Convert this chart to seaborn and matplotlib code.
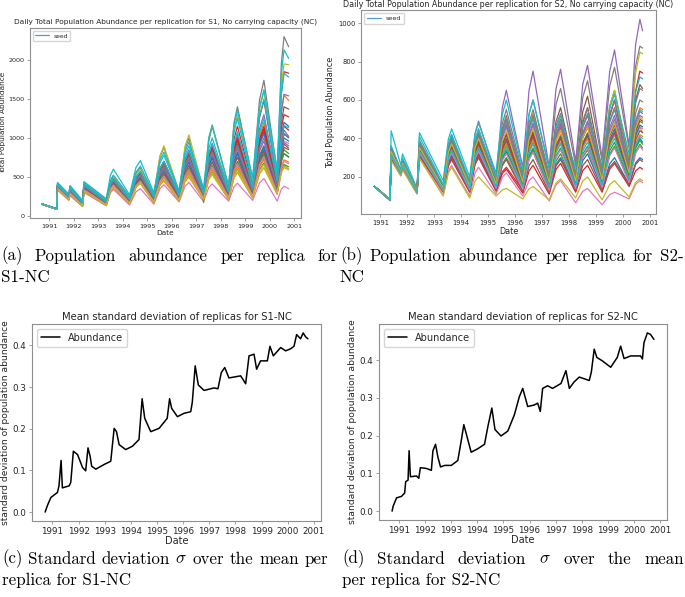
import numpy as np
import pandas as pd
import matplotlib
matplotlib.use("Agg")
import matplotlib.pyplot as plt
import matplotlib.dates as mdates
from matplotlib.lines import Line2D
import seaborn as sns

# ---------------- data ----------------
s1_dates = [1990.72, 1991.30, 1991.34, 1991.80, 1991.85, 1992.36, 1992.42, 1993.33, 1993.50, 1993.62,
            1994.28, 1994.54, 1994.72, 1995.27, 1995.52, 1995.68, 1996.30, 1996.54, 1996.70, 1997.30,
            1997.51, 1997.65, 1998.32, 1998.54, 1998.68, 1999.30, 1999.58, 1999.76, 2000.30, 2000.47,
            2000.58, 2000.77]
s1_r00 = [150, 88, 375, 235, 320, 155, 370, 165, 377, 430, 195, 439, 500, 220, 524, 600, 240, 608, 700, 260, 660, 760, 270, 710, 820, 300, 780, 900, 340, 908, 1050, 1000]
s1_r01 = [148, 85, 340, 205, 270, 125, 310, 135, 315, 360, 150, 366, 420, 170, 394, 450, 190, 438, 500, 210, 474, 540, 210, 490, 560, 230, 542, 620, 280, 576, 650, 600]
s1_r02 = [150, 87, 360, 220, 300, 140, 340, 150, 350, 400, 170, 394, 450, 190, 454, 520, 210, 522, 600, 230, 558, 640, 240, 592, 680, 260, 676, 780, 300, 740, 850, 800]
s1_r03 = [152, 92, 400, 255, 360, 175, 410, 190, 422, 480, 225, 493, 560, 255, 595, 680, 275, 719, 830, 300, 780, 900, 330, 986, 1150, 400, 1264, 1480, 480, 1576, 1850, 1830]
s1_r04 = [150, 89, 380, 240, 330, 160, 380, 170, 394, 450, 200, 456, 520, 230, 542, 620, 250, 642, 740, 270, 694, 800, 290, 762, 880, 320, 904, 1050, 370, 954, 1100, 1020]
s1_r05 = [151, 90, 390, 245, 340, 165, 390, 175, 403, 460, 210, 474, 540, 240, 568, 650, 260, 660, 760, 280, 736, 850, 300, 828, 960, 340, 948, 1100, 400, 1200, 1400, 1370]
s1_r06 = [148, 84, 330, 200, 260, 120, 300, 130, 298, 340, 140, 308, 350, 150, 350, 400, 180, 380, 430, 185, 365, 410, 190, 374, 420, 200, 424, 480, 190, 342, 380, 350]
s1_r07 = [153, 95, 420, 270, 380, 190, 430, 210, 458, 520, 250, 546, 620, 280, 760, 880, 300, 860, 1000, 170, 954, 1150, 380, 1196, 1400, 470, 1486, 1740, 560, 1952, 2300, 2170]
s1_r08 = [152, 93, 410, 260, 370, 180, 420, 200, 440, 500, 240, 528, 600, 270, 774, 900, 310, 894, 1040, 330, 1002, 1170, 350, 1110, 1300, 440, 1368, 1600, 520, 1664, 1950, 1940]
s1_r09 = [152, 94, 430, 280, 390, 200, 440, 220, 524, 600, 270, 622, 710, 300, 716, 820, 320, 824, 950, 350, 998, 1160, 390, 1166, 1360, 490, 1394, 1620, 600, 1824, 2130, 2020]
s1_r10 = [150, 89, 385, 240, 335, 160, 385, 170, 402, 460, 205, 465, 530, 235, 559, 640, 255, 659, 760, 280, 720, 830, 300, 796, 920, 330, 930, 1080, 380, 1036, 1200, 1150]
s1_r11 = [151, 91, 395, 250, 350, 170, 400, 185, 413, 470, 215, 491, 560, 245, 593, 680, 265, 693, 800, 290, 778, 900, 310, 878, 1020, 360, 1032, 1200, 430, 1326, 1550, 1480]
s1_r12 = [149, 86, 350, 210, 285, 130, 320, 140, 332, 380, 160, 376, 430, 180, 420, 480, 200, 472, 540, 220, 492, 560, 220, 524, 600, 240, 592, 680, 290, 586, 660, 630]
s1_r13 = [151, 90, 390, 245, 345, 165, 395, 180, 412, 470, 210, 482, 550, 240, 608, 700, 260, 692, 800, 285, 761, 880, 300, 844, 980, 350, 966, 1120, 410, 1122, 1300, 1270]
s1_r14 = [151, 91, 400, 250, 355, 172, 405, 188, 422, 480, 220, 500, 570, 250, 610, 700, 270, 734, 850, 295, 803, 930, 320, 904, 1050, 370, 1114, 1300, 450, 1338, 1560, 1540]
s1_r15 = [150, 88, 370, 230, 310, 150, 360, 160, 368, 420, 185, 421, 480, 210, 490, 560, 230, 566, 650, 250, 610, 700, 260, 660, 760, 280, 736, 850, 320, 800, 920, 870]
s1_r16 = [150, 88, 365, 228, 310, 148, 355, 158, 364, 415, 185, 413, 470, 205, 497, 570, 230, 574, 660, 250, 618, 710, 265, 677, 780, 290, 762, 880, 330, 834, 960, 930]
s1_r17 = [149, 87, 355, 215, 290, 135, 330, 145, 341, 390, 165, 385, 440, 185, 437, 500, 205, 505, 580, 225, 541, 620, 235, 575, 660, 250, 642, 740, 300, 700, 800, 750]
s1_r18 = [148, 85, 345, 210, 280, 128, 315, 138, 324, 370, 155, 367, 420, 175, 411, 470, 195, 455, 520, 215, 467, 530, 215, 491, 560, 235, 543, 620, 280, 568, 640, 600]
s1_r19 = [152, 93, 415, 265, 375, 185, 425, 200, 456, 520, 245, 561, 640, 275, 679, 780, 295, 779, 900, 320, 864, 1000, 350, 1070, 1250, 420, 1284, 1500, 500, 1564, 1830, 1780]
s1_r20 = [150, 88, 372, 232, 318, 152, 365, 162, 372, 425, 192, 430, 490, 215, 515, 590, 235, 599, 690, 255, 643, 740, 265, 693, 800, 290, 762, 880, 335, 867, 1000, 960]
s1_r21 = [149, 86, 352, 212, 288, 132, 325, 142, 336, 385, 162, 380, 435, 182, 428, 490, 202, 488, 560, 222, 516, 590, 228, 550, 630, 245, 625, 720, 295, 635, 720, 690]
s1_r22 = [150, 87, 362, 222, 302, 142, 345, 152, 354, 405, 175, 399, 455, 195, 463, 530, 215, 531, 610, 235, 567, 650, 245, 609, 700, 265, 693, 800, 305, 701, 800, 760]
s1_r23 = [151, 90, 392, 246, 346, 166, 398, 182, 416, 475, 212, 486, 555, 242, 600, 690, 262, 700, 810, 288, 770, 890, 305, 861, 1000, 355, 991, 1150, 420, 1004, 1150, 1100]
s1_r24 = [150, 89, 378, 238, 328, 158, 378, 168, 390, 445, 198, 452, 515, 228, 534, 610, 248, 626, 720, 268, 686, 790, 285, 745, 860, 315, 831, 960, 360, 824, 940, 900]
s1_r25 = [150, 88, 368, 228, 312, 150, 358, 160, 366, 418, 186, 420, 478, 208, 486, 555, 228, 562, 645, 248, 602, 690, 258, 652, 750, 278, 720, 830, 318, 768, 880, 850]
s1_r26 = [149, 87, 358, 218, 296, 138, 338, 148, 346, 396, 168, 390, 446, 188, 446, 510, 208, 514, 590, 228, 550, 630, 238, 584, 670, 255, 659, 760, 300, 620, 700, 670]
s1_r27 = [150, 89, 382, 240, 332, 160, 382, 170, 398, 455, 202, 460, 525, 232, 550, 630, 252, 650, 750, 275, 711, 820, 295, 779, 900, 325, 865, 1000, 370, 922, 1060, 1010]
s1_r28 = [149, 86, 348, 208, 282, 130, 318, 140, 328, 375, 158, 372, 425, 178, 416, 475, 198, 464, 530, 218, 484, 550, 220, 516, 590, 238, 576, 660, 285, 553, 620, 590]
s1_r29 = [151, 91, 398, 252, 352, 170, 402, 186, 420, 478, 218, 496, 565, 248, 610, 700, 268, 718, 830, 292, 794, 920, 315, 927, 1080, 365, 1073, 1250, 440, 1016, 1160, 1130]
s1_replicas = [s1_r00, s1_r01, s1_r02, s1_r03, s1_r04, s1_r05, s1_r06, s1_r07, s1_r08, s1_r09,
               s1_r10, s1_r11, s1_r12, s1_r13, s1_r14, s1_r15, s1_r16, s1_r17, s1_r18, s1_r19,
               s1_r20, s1_r21, s1_r22, s1_r23, s1_r24, s1_r25, s1_r26, s1_r27, s1_r28, s1_r29]

s2_dates = [1990.78, 1991.36, 1991.40, 1991.76, 1991.82, 1992.36, 1992.45, 1993.33, 1993.52, 1993.64,
            1994.31, 1994.51, 1994.64, 1995.29, 1995.52, 1995.67, 1996.28, 1996.51, 1996.66, 1997.26,
            1997.51, 1997.68, 1998.24, 1998.50, 1998.68, 1999.22, 1999.50, 1999.68, 2000.22, 2000.46,
            2000.62, 2000.72]
s2_r00 = [150, 80, 330, 225, 270, 125, 350, 140, 316, 360, 150, 334, 380, 160, 368, 420, 170, 386, 440, 160, 352, 400, 170, 370, 420, 170, 370, 420, 200, 360, 400, 380]
s2_r01 = [150, 80, 320, 220, 265, 122, 340, 135, 307, 350, 145, 325, 370, 155, 335, 380, 160, 352, 400, 150, 366, 420, 160, 376, 430, 160, 384, 440, 190, 406, 460, 430]
s2_r02 = [150, 79, 310, 215, 255, 120, 330, 130, 290, 330, 135, 299, 340, 140, 268, 300, 140, 292, 330, 130, 282, 320, 140, 300, 340, 150, 318, 360, 170, 330, 370, 350]
s2_r03 = [150, 81, 300, 210, 250, 118, 320, 125, 273, 310, 130, 282, 320, 135, 227, 250, 130, 346, 400, 140, 412, 480, 160, 480, 560, 170, 514, 600, 230, 646, 750, 740]
s2_r04 = [151, 83, 350, 230, 280, 130, 380, 150, 350, 400, 170, 426, 490, 200, 560, 650, 250, 650, 750, 250, 658, 760, 280, 680, 780, 300, 748, 860, 360, 888, 1020, 960]
s2_r05 = [150, 82, 340, 225, 275, 128, 360, 145, 333, 380, 160, 368, 420, 170, 434, 500, 190, 454, 520, 200, 488, 560, 210, 538, 620, 230, 566, 650, 280, 600, 680, 660]
s2_r06 = [149, 76, 290, 205, 240, 112, 300, 105, 229, 260, 100, 220, 250, 110, 198, 220, 100, 180, 200, 75, 159, 180, 65, 125, 140, 55, 107, 120, 85, 161, 180, 170]
s2_r07 = [151, 83, 360, 235, 290, 132, 390, 155, 367, 420, 175, 395, 450, 190, 478, 550, 220, 524, 600, 240, 576, 660, 260, 612, 700, 280, 672, 770, 350, 774, 880, 870]
s2_r08 = [150, 82, 345, 228, 280, 130, 370, 150, 350, 400, 165, 385, 440, 180, 420, 480, 190, 462, 530, 210, 442, 500, 220, 460, 520, 240, 568, 650, 300, 740, 850, 840]
s2_r09 = [151, 84, 440, 260, 320, 140, 430, 180, 396, 450, 200, 424, 480, 220, 524, 600, 240, 528, 600, 250, 418, 460, 250, 418, 460, 260, 556, 630, 320, 640, 720, 710]
s2_r10 = [150, 79, 310, 215, 255, 118, 320, 128, 282, 320, 130, 290, 330, 140, 292, 330, 135, 299, 340, 130, 266, 300, 140, 284, 320, 140, 268, 300, 160, 272, 300, 290]
s2_r11 = [150, 81, 330, 222, 268, 124, 345, 138, 324, 370, 150, 350, 400, 160, 376, 430, 170, 394, 450, 170, 386, 440, 180, 404, 460, 190, 422, 480, 220, 492, 560, 550]
s2_r12 = [150, 80, 315, 218, 258, 120, 335, 132, 298, 340, 140, 308, 350, 148, 318, 360, 150, 334, 380, 150, 334, 380, 160, 352, 400, 170, 378, 430, 200, 432, 490, 480]
s2_r13 = [150, 78, 295, 208, 245, 115, 310, 120, 256, 290, 120, 264, 300, 125, 217, 240, 115, 231, 260, 110, 238, 270, 120, 232, 260, 120, 240, 270, 150, 230, 250, 240]
s2_r14 = [150, 81, 335, 225, 270, 126, 355, 142, 332, 380, 155, 359, 410, 165, 401, 460, 175, 411, 470, 170, 418, 480, 180, 420, 480, 190, 438, 500, 230, 462, 520, 510]
s2_r15 = [150, 79, 305, 212, 250, 116, 315, 125, 265, 300, 125, 273, 310, 130, 258, 290, 125, 257, 290, 120, 256, 290, 130, 258, 290, 130, 250, 280, 160, 264, 290, 280]
s2_r16 = [150, 80, 320, 220, 262, 122, 338, 135, 307, 350, 145, 317, 360, 150, 414, 480, 160, 352, 400, 150, 350, 400, 160, 360, 410, 165, 385, 440, 195, 407, 460, 450]
s2_r17 = [150, 82, 350, 230, 285, 130, 375, 150, 358, 410, 170, 378, 430, 185, 453, 520, 200, 480, 550, 210, 466, 530, 220, 492, 560, 240, 528, 600, 280, 584, 660, 650]
s2_r18 = [149, 77, 285, 205, 238, 110, 295, 100, 220, 250, 90, 178, 200, 100, 132, 140, 85, 137, 150, 80, 168, 190, 90, 178, 200, 80, 160, 180, 95, 171, 190, 180]
s2_r19 = [151, 82, 360, 235, 300, 135, 410, 160, 368, 420, 180, 388, 440, 190, 422, 480, 200, 440, 500, 200, 456, 520, 210, 466, 530, 220, 484, 550, 250, 490, 550, 540]
s2_r20 = [150, 80, 325, 222, 266, 123, 345, 138, 312, 355, 148, 330, 375, 158, 352, 400, 165, 369, 420, 160, 360, 410, 165, 373, 425, 170, 394, 450, 200, 416, 470, 460]
s2_r21 = [150, 80, 318, 219, 262, 121, 338, 133, 303, 345, 142, 318, 362, 150, 326, 370, 155, 343, 390, 150, 334, 380, 155, 351, 400, 160, 368, 420, 185, 373, 420, 410]
s2_r22 = [150, 79, 312, 216, 257, 119, 332, 130, 294, 335, 138, 304, 345, 145, 301, 340, 145, 309, 350, 140, 308, 350, 150, 318, 360, 155, 335, 380, 180, 348, 390, 370]
s2_r23 = [150, 81, 328, 224, 268, 124, 348, 140, 320, 365, 150, 342, 390, 160, 368, 420, 170, 378, 430, 165, 393, 450, 175, 403, 460, 185, 413, 470, 215, 443, 500, 490]
s2_r24 = [150, 81, 338, 226, 272, 127, 358, 144, 337, 385, 158, 364, 415, 168, 410, 470, 180, 420, 480, 180, 412, 470, 190, 430, 490, 200, 456, 520, 240, 480, 540, 530]
s2_r25 = [150, 80, 322, 220, 264, 122, 342, 136, 309, 352, 146, 324, 368, 152, 342, 390, 160, 360, 410, 155, 351, 400, 162, 364, 415, 168, 378, 430, 195, 391, 440, 430]
s2_r26 = [150, 79, 308, 214, 254, 118, 325, 127, 285, 325, 132, 294, 335, 140, 284, 320, 135, 291, 330, 130, 298, 340, 140, 308, 350, 145, 309, 350, 170, 322, 360, 340]
s2_r27 = [150, 82, 345, 228, 278, 129, 365, 147, 345, 395, 162, 372, 425, 175, 435, 500, 190, 454, 520, 195, 439, 500, 205, 457, 520, 215, 491, 560, 255, 531, 600, 590]
s2_r28 = [150, 81, 332, 224, 270, 125, 352, 140, 326, 372, 152, 350, 400, 162, 384, 440, 172, 394, 450, 170, 390, 445, 178, 404, 460, 185, 421, 480, 220, 452, 510, 500]
s2_r29 = [150, 80, 316, 218, 260, 120, 334, 132, 298, 340, 140, 310, 352, 148, 314, 355, 150, 326, 370, 148, 326, 370, 155, 335, 380, 160, 352, 400, 190, 366, 410, 400]
s2_replicas = [s2_r00, s2_r01, s2_r02, s2_r03, s2_r04, s2_r05, s2_r06, s2_r07, s2_r08, s2_r09,
               s2_r10, s2_r11, s2_r12, s2_r13, s2_r14, s2_r15, s2_r16, s2_r17, s2_r18, s2_r19,
               s2_r20, s2_r21, s2_r22, s2_r23, s2_r24, s2_r25, s2_r26, s2_r27, s2_r28, s2_r29]

std1_dates = [1990.72, 1990.81, 1990.94, 1991.19, 1991.25, 1991.33, 1991.38, 1991.64, 1991.70,
              1991.80, 1991.96, 1992.15, 1992.27, 1992.36, 1992.44, 1992.50, 1992.66, 1992.97,
              1993.23, 1993.36, 1993.45, 1993.55, 1993.80, 1994.06, 1994.31, 1994.43, 1994.53,
              1994.76, 1995.08, 1995.39, 1995.48, 1995.56, 1995.78, 1996.03, 1996.29, 1996.35,
              1996.46, 1996.58, 1996.80, 1997.18, 1997.33, 1997.46, 1997.59, 1997.75, 1998.20,
              1998.39, 1998.52, 1998.71, 1998.81, 1998.96, 1999.22, 1999.32, 1999.45, 1999.73,
              1999.92, 2000.11, 2000.24, 2000.34, 2000.49, 2000.59, 2000.68, 2000.77]
std1_vals = [0.000, 0.016, 0.035, 0.047, 0.063, 0.124, 0.058, 0.063, 0.071,
             0.146, 0.138, 0.107, 0.099, 0.154, 0.134, 0.110, 0.103, 0.114,
             0.122, 0.201, 0.193, 0.162, 0.150, 0.158, 0.174, 0.272, 0.225,
             0.193, 0.201, 0.225, 0.272, 0.249, 0.229, 0.237, 0.241, 0.264,
             0.351, 0.305, 0.292, 0.298, 0.296, 0.335, 0.347, 0.322, 0.327,
             0.308, 0.375, 0.379, 0.343, 0.363, 0.363, 0.398, 0.375, 0.395,
             0.387, 0.392, 0.398, 0.426, 0.416, 0.430, 0.421, 0.416]

std2_dates = [1990.75, 1990.79, 1990.92, 1991.11, 1991.23, 1991.27, 1991.36, 1991.40, 1991.45,
              1991.68, 1991.77, 1991.83, 1992.06, 1992.25, 1992.31, 1992.41, 1992.50, 1992.60,
              1992.76, 1993.01, 1993.26, 1993.39, 1993.49, 1993.62, 1993.77, 1994.02, 1994.28,
              1994.40, 1994.56, 1994.68, 1994.91, 1995.17, 1995.42, 1995.61, 1995.74, 1995.93,
              1996.18, 1996.31, 1996.41, 1996.50, 1996.69, 1996.88, 1997.20, 1997.39, 1997.52,
              1997.70, 1997.90, 1998.28, 1998.36, 1998.47, 1998.57, 1998.78, 1999.10, 1999.35,
              1999.48, 1999.61, 1999.86, 2000.24, 2000.31, 2000.37, 2000.50, 2000.62, 2000.75]
std2_vals = [0.000, 0.013, 0.035, 0.039, 0.048, 0.078, 0.082, 0.160, 0.091,
             0.093, 0.087, 0.115, 0.113, 0.108, 0.160, 0.177, 0.143, 0.117,
             0.121, 0.121, 0.134, 0.186, 0.229, 0.195, 0.156, 0.165, 0.177,
             0.221, 0.273, 0.216, 0.199, 0.212, 0.255, 0.303, 0.325, 0.277,
             0.281, 0.286, 0.264, 0.325, 0.332, 0.325, 0.338, 0.372, 0.325,
             0.342, 0.355, 0.346, 0.368, 0.429, 0.407, 0.398, 0.381, 0.407,
             0.437, 0.404, 0.411, 0.411, 0.403, 0.446, 0.472, 0.468, 0.455]

title_a = "Daily Total Population Abundance per replication for S1, No carrying capacity (NC)"
title_b = "Daily Total Population Abundance per replication for S2, No carrying capacity (NC)"
title_c = "Mean standard deviation of replicas for S1-NC"
title_d = "Mean standard deviation of replicas for S2-NC"
cap_a = ["(a) Population abundance per replica for", "S1-NC"]
cap_b = ["(b) Population abundance per replica for S2-", "NC"]
cap_c = ["(c) Standard deviation $\\sigma$ over the mean per", "replica for S1-NC"]
cap_d = ["(d) Standard deviation $\\sigma$ over the mean", "per replica for S2-NC"]


def to_dt(years):
    y = np.asarray(years, dtype=float)
    return pd.Timestamp("1990-01-01") + pd.to_timedelta((y - 1990.0) * 365.25, unit="D")


def long_df(dates, replicas):
    frames = []
    d = to_dt(dates)
    for i, vals in enumerate(replicas):
        frames.append(pd.DataFrame({"Date": d, "abundance": vals, "replica": i}))
    return pd.concat(frames, ignore_index=True)


# ---------------- style ----------------
sns.set_style("ticks")
plt.rcParams["font.family"] = ["DejaVu Sans"]
plt.rcParams["mathtext.fontset"] = "cm"
FRAME = "#8f8f8f"
TXT = "#262626"

W, H = 685, 597
fig = plt.figure(figsize=(W / 100, H / 100), dpi=100)


def axes_px(l, t, r, b):
    return fig.add_axes([l / W, 1 - b / H, (r - l) / W, (b - t) / H])


def style_ax(ax, fs):
    for s in ax.spines.values():
        s.set_color(FRAME)
        s.set_linewidth(0.8)
    ax.tick_params(colors=FRAME, labelcolor=TXT, labelsize=fs, length=2.5, width=0.6, pad=1.5)
    ax.xaxis.set_major_locator(mdates.YearLocator())
    ax.xaxis.set_major_formatter(mdates.DateFormatter("%Y"))


tab10 = sns.color_palette("tab10", 10)
pal = {i: tab10[i % 10] for i in range(30)}

# (a)
ax_a = axes_px(30, 28, 301, 218)
sns.lineplot(data=long_df(s1_dates, s1_replicas), x="Date", y="abundance", hue="replica",
             palette=pal, legend=False, linewidth=0.9, ax=ax_a)
style_ax(ax_a, 4.6)
ax_a.set_title(title_a, fontsize=5.3, color=TXT, pad=3)
ax_a.set_xlabel("Date", fontsize=5.3, color=TXT, labelpad=1)
ax_a.set_ylabel("Total Population Abundance", fontsize=5.3, color=TXT, labelpad=2)
ax_a.set_yticks([0, 500, 1000, 1500, 2000])
ax_a.legend([Line2D([], [], color="#4f9fd6", lw=0.9)], ["seed"], loc="upper left",
            fontsize=4.3, frameon=True, handlelength=2.2, borderpad=0.4)

# (b)
ax_b = axes_px(361, 10, 656, 214)
sns.lineplot(data=long_df(s2_dates, s2_replicas), x="Date", y="abundance", hue="replica",
             palette=pal, legend=False, linewidth=0.9, ax=ax_b)
style_ax(ax_b, 4.9)
ax_b.set_title(title_b, fontsize=5.8, color=TXT, pad=2)
ax_b.set_xlabel("Date", fontsize=5.8, color=TXT, labelpad=1)
ax_b.set_ylabel("Total Population Abundance", fontsize=5.8, color=TXT, labelpad=2)
ax_b.set_yticks([200, 400, 600, 800, 1000])
ax_b.legend([Line2D([], [], color="#4f9fd6", lw=0.9)], ["seed"], loc="upper left",
            fontsize=4.6, frameon=True, handlelength=2.2, borderpad=0.4)

# (c)
ax_c = axes_px(32, 324, 321, 521)
sns.lineplot(x=to_dt(std1_dates), y=std1_vals, color="black", linewidth=1.1,
             label="Abundance", ax=ax_c)
style_ax(ax_c, 6.3)
ax_c.set_title(title_c, fontsize=7.2, color=TXT, pad=3)
ax_c.set_xlabel("Date", fontsize=7.0, color=TXT, labelpad=0)
ax_c.set_ylabel("standard deviation of population abundance", fontsize=6.6, color=TXT, labelpad=2)
ax_c.set_yticks([0.0, 0.1, 0.2, 0.3, 0.4])
ax_c.legend(loc="upper left", fontsize=7.0, frameon=True, handlelength=2.0)

# (d)
ax_d = axes_px(379, 324, 667, 520)
sns.lineplot(x=to_dt(std2_dates), y=std2_vals, color="black", linewidth=1.1,
             label="Abundance", ax=ax_d)
style_ax(ax_d, 6.3)
ax_d.set_title(title_d, fontsize=7.2, color=TXT, pad=3)
ax_d.set_xlabel("Date", fontsize=7.0, color=TXT, labelpad=0)
ax_d.set_ylabel("standard deviation of population abundance", fontsize=6.6, color=TXT, labelpad=2)
ax_d.set_yticks([0.0, 0.1, 0.2, 0.3, 0.4])
ax_d.legend(loc="upper left", fontsize=7.0, frameon=True, handlelength=2.0)

# ---------------- captions ----------------
CAP = dict(fontfamily="cmr10", fontsize=12.2, color="black", va="center", ha="left")
renderer = fig.canvas.get_renderer()


def justified(text, x0, x1, y):
    words = text.split(" ")
    objs = [fig.text(0, 0, w, **CAP) for w in words]
    widths = [o.get_window_extent(renderer).width for o in objs]
    gap = max(3.5, (x1 - x0 - sum(widths)) / (len(words) - 1))
    x = x0
    for o, w in zip(objs, widths):
        o.set_position((x / W, 1 - y / H))
        x += w + gap


def plain(text, x0, y):
    fig.text(x0 / W, 1 - y / H, text, **CAP)


justified(cap_a[0], 1, 338, 256)
plain(cap_a[1], 1, 277)
justified(cap_b[0], 340, 684, 256)
plain(cap_b[1], 340, 277)
justified(cap_c[0], 2, 328, 559)
plain(cap_c[1], 2, 580)
justified(cap_d[0], 342, 684, 559)
plain(cap_d[1], 342, 580)

fig.savefig("out.png", dpi=100)
